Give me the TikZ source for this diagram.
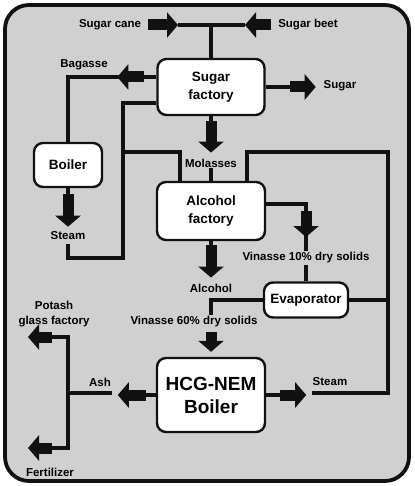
\documentclass[tikz,border=0pt]{standalone}
\usepackage{fontspec}
\setmainfont{Liberation Sans}
\usetikzlibrary{arrows.meta}
\definecolor{panelgray}{HTML}{D0D0D0}
\definecolor{inkblack}{HTML}{111111}

\tikzset{
  unit/.style={draw=inkblack, fill=white, rounded corners=9pt, line width=2.4pt, align=center, inner sep=0pt, font=\fontsize{13.5}{18}\selectfont\bfseries},
  tag/.style={inner sep=1pt, align=center, font=\fontsize{11.5}{15}\selectfont\bfseries},
  flow/.style={draw=inkblack, line width=3.6pt},
  fat/.style={draw=inkblack, line width=11pt, -{Triangle[length=11pt, width=25pt]}}
}

\begin{document}
\begin{tikzpicture}[x=1pt, y=-1pt]
\useasboundingbox (0,0) rectangle (414,486);
\draw[fill=panelgray, draw=inkblack, line width=3.8pt, rounded corners=24pt] (5,5) rectangle (409,481);

% process units
\node[unit, minimum width=107pt, minimum height=56pt] (sugar) at (211,87) {Sugar\\factory};
\node[unit, minimum width=68pt, minimum height=44pt] (boiler) at (68,165) {Boiler};
\node[unit, minimum width=108pt, minimum height=58pt] (alcohol) at (211,211) {Alcohol\\factory};
\node[unit, minimum width=84pt, minimum height=35pt] (evap) at (306,300) {Evaporator};
\node[unit, minimum width=108pt, minimum height=74pt, font=\fontsize{19}{23}\selectfont\bfseries] (hcg) at (211,395) {HCG-NEM\\Boiler};

% stream labels
\node[tag] (cane) at (110,25) {Sugar cane};
\node[tag] (beet) at (308,25) {Sugar beet};
\node[tag] (bagasse) at (84,65) {Bagasse};
\node[tag] (sugarout) at (340,86) {Sugar};
\node[tag] (molasses) at (211,163) {Molasses};
\node[tag] (steamA) at (68,236) {Steam};
\node[tag] (vin10) at (306,258) {Vinasse 10\% dry solids};
\node[tag] (alcoholout) at (211,288) {Alcohol};
\node[tag] (vin60) at (194,322) {Vinasse 60\% dry solids};
\node[tag] (potash) at (54,314) {Potash\\glass factory};
\node[tag] (ash) at (100,382) {Ash};
\node[tag] (steamB) at (330,382) {Steam};
\node[tag] (fert) at (50,472) {Fertilizer};

% bends and free ends
\coordinate (caneend) at (178,25);
\coordinate (beetend) at (245,25);
\coordinate (feed) at (211,25);
\coordinate (split) at (123,152);
\coordinate (steamturn) at (123,258);
\coordinate (loop) at (388,152);
\coordinate (ret) at (312,393);
\coordinate (ashend) at (112,393);
\coordinate (ashjoin) at (68,393);
\coordinate (ashtop) at (68,337);
\coordinate (ashbot) at (68,448);
\coordinate (potashend) at (28,337);
\coordinate (fertend) at (28,448);

% raw material
\draw[flow] (caneend) -- (beetend);
\draw[flow] (feed) -- (sugar);
\draw[fat] ([xshift=6pt]cane.east) -- (caneend);
\draw[fat] ([xshift=-6pt]beet.west) -- (beetend);

% sugar factory outputs
\draw[flow] ([yshift=10pt]sugar.west) -| (boiler);
\draw[fat] ([yshift=10pt, xshift=-12pt]sugar.west) -- ++(-27,0);
\draw[flow] (sugar.east) -- ++(26,0);
\draw[fat] ([xshift=24pt]sugar.east) -- ++(26,0);
\draw[flow] (sugar.south) -- ++(0,6);
\draw[fat] ([yshift=-5pt]sugar.south) -- ([yshift=5pt]molasses.north);
\draw[flow] (molasses) -- (alcohol);

% boiler steam
\draw[flow] (boiler.south) -- ++(0,8);
\draw[fat] ([yshift=-6pt]boiler.south) -- ([yshift=4pt]steamA.north);
\draw[flow] ([yshift=-3pt]steamA.south) |- (steamturn) |- ([yshift=-16pt]sugar.west);
\draw[flow] (split) -| ([xshift=-31pt]alcohol.north);

% HCG-NEM steam loop
\draw[flow] ([xshift=36pt]alcohol.north) |- (loop) |- (ret);
\draw[flow] (evap.east) -- (evap.east -| loop);
\draw[flow] (hcg.east) -- ++(16,0);
\draw[fat] ([xshift=14pt]hcg.east) -- ++(26,0);

% vinasse
\draw[flow] ([yshift=7pt]alcohol.east) -| (evap.north |- vin10.north);
\draw[fat] (alcohol.east -| evap.north) -- ++(0,26);
\draw[flow] (vin10.south -| evap.north) -- (evap.north);
\draw[flow] (alcohol.south) -- ++(0,6);
\draw[fat] ([yshift=-4pt]alcohol.south) -- ([yshift=5pt]alcoholout.north);
\draw[flow] (evap.west) -| (hcg.north |- vin60.north);
\draw[fat] ([yshift=-3pt]vin60.south -| hcg.north) -- ([yshift=5pt]hcg.north);

% ash
\draw[flow] (hcg.west) -- ++(-12,0);
\draw[fat] ([xshift=-10pt]hcg.west) -- ++(-28,0);
\draw[flow] (ashend) -- (ashjoin);
\draw[flow] ([xshift=-18pt]ashtop) -- (ashtop) -- (ashbot) -- ([xshift=-18pt]ashbot);
\draw[fat] ([xshift=-16pt]ashtop) -- (potashend);
\draw[fat] ([xshift=-16pt]ashbot) -- (fertend);
\end{tikzpicture}
\end{document}
